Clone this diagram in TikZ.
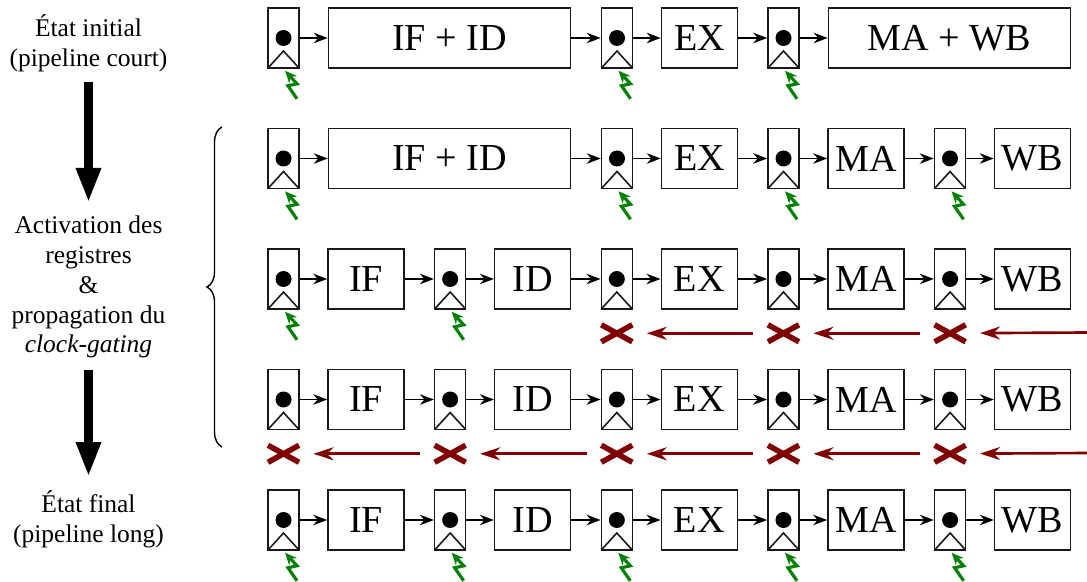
\documentclass[tikz,border=0pt]{standalone}
\usepackage{fontspec}
\setmainfont{Liberation Serif}
\usetikzlibrary{positioning,arrows.meta,calc,shapes.misc,decorations.pathreplacing}
\definecolor{gatered}{RGB}{128,0,0}
\definecolor{clkgreen}{RGB}{0,128,0}

\begin{document}
\begin{tikzpicture}[>={Stealth[length=2.8mm,width=2.1mm]},
  reg/.style={draw=black!90, line width=0.9pt, minimum width=6.2mm, minimum height=12mm, inner sep=0pt,
              path picture={\fill (path picture bounding box.center) circle (1.6mm);
                \draw[line width=0.9pt] (path picture bounding box.south west)
                  -- ($(path picture bounding box.south)+(0,3.4mm)$) -- (path picture bounding box.south east);}},
  stage/.style={draw=black!90, line width=0.9pt, minimum width=15.2mm, minimum height=12mm,
                inner sep=0pt, font=\fontsize{21.7}{26}\selectfont},
  wide/.style={stage, minimum width=48.4mm},
  link/.style={->, line width=0.8pt},
  clk/.style={-{Stealth[length=2.4mm,width=2.1mm]}, draw=clkgreen, line width=1.8pt},
  gate/.style={cross out, draw=gatered, line width=1.1mm, minimum width=6.2mm, minimum height=3.4mm,
               inner sep=0pt, outer sep=0pt},
  back/.style={-{Stealth[length=4mm,width=2.6mm]}, draw=gatered, line width=1.5pt, shorten <=6mm, shorten >=6mm},
  lbl/.style={align=center, inner sep=0pt, font=\fontsize{14.5}{17}\selectfont},
  big/.style={-{Triangle[length=7mm,width=4.6mm]}, line width=1.86mm}]
\useasboundingbox (0,0) rectangle (21.74,-11.64);
% left: steps
\node[lbl] (init) at (1.77,-0.86) {État initial\\(pipeline court)};
\node[lbl] (act) at (1.77,-5.74) {Activation des\\registres\\\&\\propagation du\\\textit{clock-gating}};
\node[lbl] (fin) at (1.77,-10.38) {État final\\(pipeline long)};
\draw[big, shorten <=2mm, shorten >=2.5mm] (init) -- (act);
\draw[big, shorten <=2.3mm, shorten >=2.6mm] (act) -- (fin);
\draw[line width=0.8pt, decorate, decoration={brace, amplitude=3mm}] (4.44,-8.94) -- (4.44,-2.54);
% row 0: short pipeline
\node[reg] (r00) at (5.67,-0.76) {};
\node[wide] (s00) at (8.99,-0.76) {IF + ID};
\node[reg] (r02) at (12.34,-0.76) {};
\node[stage] (s02) at (13.99,-0.76) {EX};
\node[reg] (r03) at (15.67,-0.76) {};
\node[wide] (s03) at (18.99,-0.76) {MA + WB};
\draw[link] (r00) -- (s00); \draw[link] (s00) -- (r02); \draw[link] (r02) -- (s02);
\draw[link] (s02) -- (r03); \draw[link] (r03) -- (s03);
% row 1: MA and WB split
\node[reg] (r10) at (5.67,-3.17) {};
\node[wide] (s10) at (8.99,-3.17) {IF + ID};
\node[reg] (r12) at (12.34,-3.17) {};
\node[stage] (s12) at (13.99,-3.17) {EX};
\node[reg] (r13) at (15.67,-3.17) {};
\node[stage] (s13) at (17.32,-3.17) {MA};
\node[reg] (r14) at (19.0,-3.17) {};
\node[stage] (s14) at (20.65,-3.17) {WB};
\draw[link] (r10) -- (s10); \draw[link] (s10) -- (r12); \draw[link] (r12) -- (s12);
\draw[link] (s12) -- (r13); \draw[link] (r13) -- (s13); \draw[link] (s13) -- (r14); \draw[link] (r14) -- (s14);
% rows 2-4: five stages
\foreach \row/\ypos in {2/-5.58,3/-7.99,4/-10.4} {
  \foreach \i/\lab in {0/IF,1/ID,2/EX,3/MA,4/WB} {
    \node[reg] (r\row\i) at ({5.67+3.333*\i},\ypos) {};
    \node[stage] (s\row\i) at ({7.32+3.333*\i},\ypos) {\lab};
    \draw[link] (r\row\i) -- (s\row\i);
  }
  \foreach \i [count=\j from 1] in {0,...,3} \draw[link] (s\row\i) -- (r\row\j);
}
% clocks
\foreach \n in {r00,r02,r03,r10,r12,r13,r14,r20,r21,r40,r41,r42,r43,r44}
  \draw[clk] ([shift={(2.7mm,-6mm)}]\n.south) -- ++(-1.8mm,2.6mm) -- ++(1.8mm,0.4mm) -- ([shift={(0.3mm,-0.4mm)}]\n.south);
% clock-gating
\foreach \i in {2,3,4} \node[gate, below=3mm of r2\i] (x2\i) {};
\foreach \i in {0,...,4} \node[gate, below=3mm of r3\i] (x3\i) {};
\coordinate (e2) at (21.74,-6.65);
\coordinate (e3) at (21.74,-9.06);
\draw[back, shorten <=0pt] (e2) -- (x24.center);
\draw[back] (x24.center) -- (x23.center); \draw[back] (x23.center) -- (x22.center);
\draw[back, shorten <=0pt] (e3) -- (x34.center);
\foreach \i in {4,3,2,1} {
  \pgfmathtruncatemacro{\k}{\i-1}
  \draw[back] (x3\i.center) -- (x3\k.center);
}
\end{tikzpicture}
\end{document}
